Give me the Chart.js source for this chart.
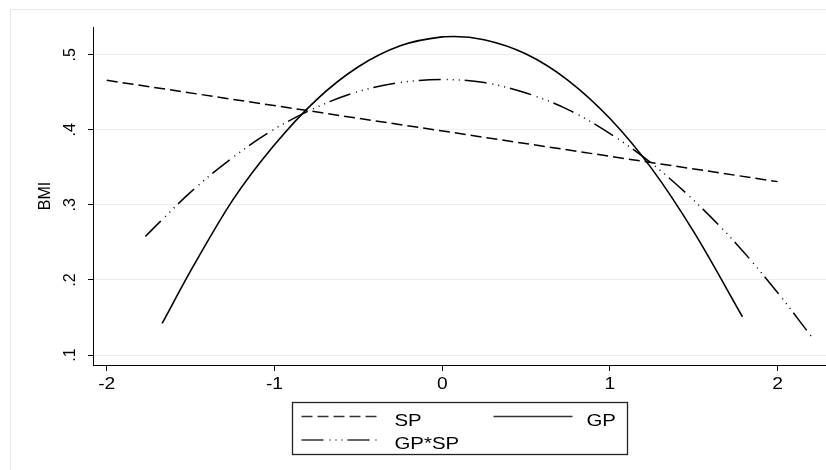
<!DOCTYPE html>
<html>
<head>
<meta charset="utf-8">
<title>BMI</title>
<script src="https://cdn.jsdelivr.net/npm/chart.js@4.4.0/dist/chart.umd.min.js"></script>
<style>
  body { margin: 0; background: #fff; }
  canvas { display: block; }
</style>
</head>
<body>
<canvas id="graficoBMI" width="826" height="470"></canvas>
<script>
// Valores
var ticksX = [-2, -1, 0, 1, 2];
var etiquetasX = ['-2', '-1', '0', '1', '2'];
var ticksY = [0.1, 0.2, 0.3, 0.4, 0.5];
var etiquetasY = ['.1', '.2', '.3', '.4', '.5'];

var spX = [-2, 2];
var spY = [0.466, 0.331];

var gpX = [-1.67, -1.5, -1.25, -1, -0.75, -0.5, -0.25, 0, 0.07, 0.25, 0.5, 0.75, 1, 1.25, 1.5, 1.79];
var gpY = [0.142, 0.212, 0.306, 0.380, 0.440, 0.484, 0.512, 0.5238, 0.5244, 0.520, 0.501, 0.466, 0.415, 0.348, 0.264, 0.151];

var gpspX = [-1.77, -1.5, -1.25, -1, -0.75, -0.5, -0.25, 0, 0.25, 0.5, 0.75, 1, 1.25, 1.5, 1.75, 2, 2.21];
var gpspY = [0.258, 0.317, 0.363, 0.401, 0.430, 0.451, 0.463, 0.467, 0.463, 0.449, 0.427, 0.395, 0.355, 0.306, 0.249, 0.183, 0.122];

var fuente = '"Liberation Sans", Arial, sans-serif';

// Convierte dos arrays en puntos {x, y}
function puntos(xs, ys) {
    var res = [];
    for (var i = 0; i < xs.length; i++) {
        res.push({ x: xs[i], y: ys[i] });
    }
    return res;
}

// Texto horizontal algo ensanchado, como en el original
function textoAncho(ctx, txt, x, y, alinear) {
    ctx.save();
    ctx.translate(x, y);
    ctx.scale(1.2, 1);
    ctx.textAlign = alinear;
    ctx.fillText(txt, 0, 0);
    ctx.restore();
}

// Marco, etiquetas de los ejes y leyenda al estilo Stata
var extras = {
    id: 'extras',
    beforeDraw: function(chart) {
        var ctx = chart.ctx;
        ctx.save();
        ctx.strokeStyle = '#e2ebed';
        ctx.lineWidth = 1;
        ctx.strokeRect(10.5, 9.5, 840, 480);
        ctx.restore();
    },
    afterDraw: function(chart) {
        var ctx = chart.ctx;
        var escalaX = chart.scales.x;
        var escalaY = chart.scales.y;
        var area = chart.chartArea;

        ctx.save();
        ctx.fillStyle = '#000';
        ctx.textBaseline = 'alphabetic';

        // Eje y: etiquetas giradas
        ctx.font = '16px ' + fuente;
        ctx.textAlign = 'center';
        for (var i = 0; i < ticksY.length; i++) {
            var py = escalaY.getPixelForValue(ticksY[i]);
            ctx.save();
            ctx.translate(75, py);
            ctx.rotate(-Math.PI / 2);
            ctx.fillText(etiquetasY[i], 0, 0);
            ctx.restore();
        }

        // Eje x
        ctx.font = '16px ' + fuente;
        for (var j = 0; j < ticksX.length; j++) {
            textoAncho(ctx, etiquetasX[j], escalaX.getPixelForValue(ticksX[j]), 389, 'center');
        }

        // Leyenda
        var ancho = 335, alto = 52;
        var izq = Math.round((area.left + area.right) / 2 - ancho / 2) + 0.5;
        var arriba = 402.5;
        ctx.strokeStyle = '#222';
        ctx.lineWidth = 1.3;
        ctx.strokeRect(izq, arriba, ancho, alto);

        var posiciones = [[9, 14], [201, 14], [9, 37.5]];
        ctx.font = '17px ' + fuente;
        chart.data.datasets.forEach(function(ds, k) {
            var p = posiciones[k];
            var x0 = izq + p[0], yy = arriba + p[1];
            ctx.beginPath();
            ctx.setLineDash(ds.borderDash || []);
            ctx.strokeStyle = '#333';
            ctx.lineWidth = 1.4;
            ctx.moveTo(x0, yy);
            ctx.lineTo(x0 + 79, yy);
            ctx.stroke();
            ctx.setLineDash([]);
            ctx.fillStyle = '#000';
            textoAncho(ctx, ds.label, x0 + 93, yy + 9, 'left');
        });
        ctx.restore();
    }
};

var ctx = document.getElementById('graficoBMI').getContext('2d');
var grafico = new Chart(ctx, {
    type: 'scatter',
    data: {
        datasets: [{
            label: 'SP',
            data: puntos(spX, spY),
            borderColor: '#000',
            borderWidth: 1.5,
            borderDash: [11, 5]
        }, {
            label: 'GP',
            data: puntos(gpX, gpY),
            borderColor: '#000',
            borderWidth: 1.6
        }, {
            label: 'GP*SP',
            data: puntos(gpspX, gpspY),
            borderColor: '#000',
            borderWidth: 1.5,
            borderDash: [22, 6, 1, 5, 1, 5, 1, 5]
        }]
    },
    options: {
        responsive: false,
        animation: false,
        showLine: true,
        elements: {
            point: { radius: 0 },
            line: { cubicInterpolationMode: 'monotone', fill: false }
        },
        layout: { padding: { left: 0, top: 27, right: 0, bottom: 0 } },
        plugins: {
            legend: { display: false },
            tooltip: { enabled: false }
        },
        scales: {
            x: {
                type: 'linear',
                min: -2.082,
                max: 2.288,
                afterBuildTicks: function(scale) {
                    scale.ticks = ticksX.map(function(v) { return { value: v }; });
                },
                afterFit: function(scale) { scale.height = 105; },
                grid: { drawOnChartArea: false, tickLength: 6, tickColor: '#000', tickWidth: 1 },
                border: { color: '#000', width: 1 },
                ticks: { display: false }
            },
            y: {
                type: 'linear',
                min: 0.0867,
                max: 0.537,
                afterBuildTicks: function(scale) {
                    scale.ticks = ticksY.map(function(v) { return { value: v }; });
                },
                afterFit: function(scale) { scale.width = 93; },
                grid: { color: '#e8eff1', lineWidth: 1, tickLength: 5, tickColor: '#000' },
                border: { color: '#000', width: 1 },
                ticks: { display: false },
                title: {
                    display: true,
                    text: 'BMI',
                    color: '#000',
                    font: { family: fuente, size: 16 },
                    padding: { top: 36, bottom: 0 }
                }
            }
        }
    },
    plugins: [extras]
});
</script>
</body>
</html>
